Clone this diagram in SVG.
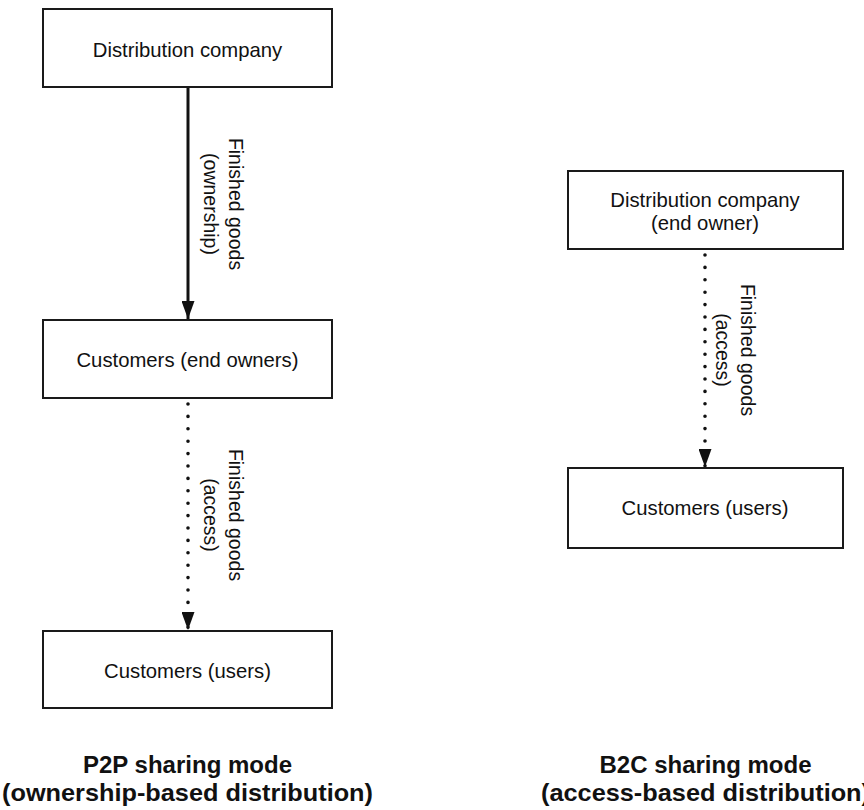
<svg xmlns="http://www.w3.org/2000/svg" width="864" height="810" viewBox="0 0 864 810">
<style>
.box{fill:#fff;stroke:#1a1a1a;stroke-width:2}
.t{font-family:"Liberation Sans",Arial,sans-serif;font-size:20.3px;fill:#111;text-anchor:middle}
.lab{font-family:"Liberation Sans",Arial,sans-serif;font-size:19.5px;fill:#111;text-anchor:middle}
.title{font-family:"Liberation Sans",Arial,sans-serif;font-size:24px;font-weight:bold;fill:#111;text-anchor:middle}
.solid{stroke:#111;stroke-width:3;fill:none}
.dot{stroke:#111;stroke-width:3.6;fill:none;stroke-linecap:round;stroke-dasharray:0 12.4}
</style>
<defs>
<marker id="ah" viewBox="0 0 18 13" refX="18" refY="6.5" markerWidth="18" markerHeight="13" markerUnits="userSpaceOnUse" orient="auto">
<path d="M0,0 L18,6.5 L0,13 Z" fill="#111"/>
</marker>
</defs>
<rect width="864" height="810" fill="#fff"/>
<g id="connectors">
<line class="solid" x1="188" y1="88" x2="188" y2="319" marker-end="url(#ah)"/>
<line class="dot" x1="188" y1="404" x2="188" y2="630" marker-end="url(#ah)"/>
<line class="dot" x1="705" y1="255" x2="705" y2="467" marker-end="url(#ah)"/>
<text class="lab" transform="translate(229,204) rotate(90)">Finished goods</text>
<text class="lab" transform="translate(204,204) rotate(90)">(ownership)</text>
<text class="lab" transform="translate(229,515) rotate(90)">Finished goods</text>
<text class="lab" transform="translate(204,515) rotate(90)">(access)</text>
<text class="lab" transform="translate(741,350) rotate(90)">Finished goods</text>
<text class="lab" transform="translate(716,350) rotate(90)">(access)</text>
</g>
<g id="p2p-company">
<rect class="box" x="43" y="9" width="289" height="78"/>
<text class="t" x="187.5" y="57">Distribution company</text>
</g>
<g id="p2p-owners">
<rect class="box" x="43" y="320" width="289" height="78"/>
<text class="t" x="187.5" y="367">Customers (end owners)</text>
</g>
<g id="p2p-users">
<rect class="box" x="43" y="631" width="289" height="77"/>
<text class="t" x="187.5" y="678">Customers (users)</text>
</g>
<g id="b2c-company">
<rect class="box" x="568" y="171" width="275" height="78"/>
<text class="t" x="705" y="207">Distribution company</text>
<text class="t" x="705" y="230">(end owner)</text>
</g>
<g id="b2c-users">
<rect class="box" x="568" y="468" width="275" height="80"/>
<text class="t" x="705" y="515">Customers (users)</text>
</g>
<g id="titles">
<text class="title" x="187.5" y="773">P2P sharing mode</text>
<text class="title" x="187.5" y="801" textLength="371" lengthAdjust="spacingAndGlyphs">(ownership-based distribution)</text>
<text class="title" x="705.5" y="773">B2C sharing mode</text>
<text class="title" x="705.5" y="801" textLength="329" lengthAdjust="spacingAndGlyphs">(access-based distribution)</text>
</g>
</svg>
